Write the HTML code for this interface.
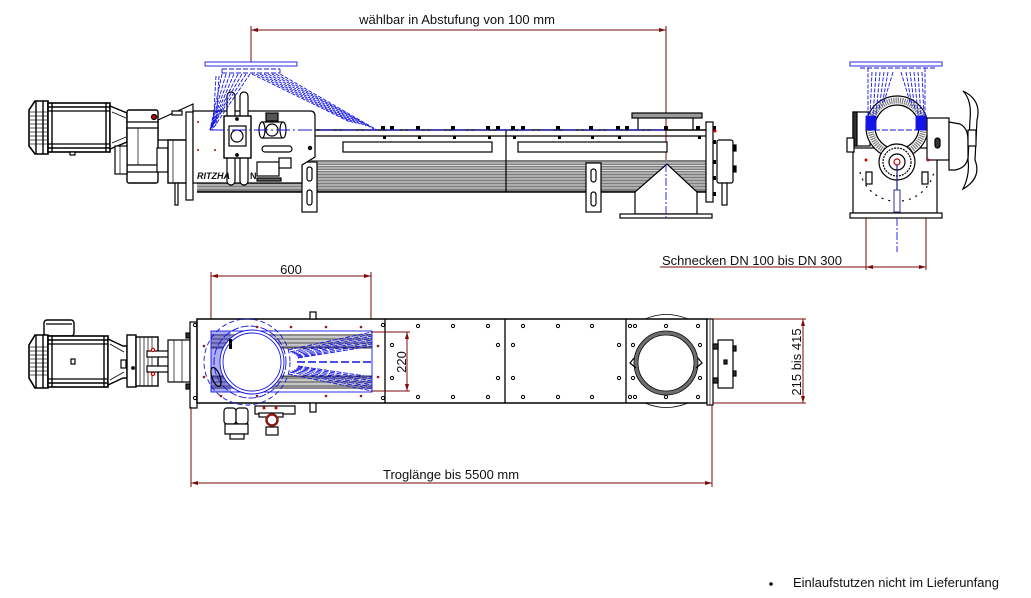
<!DOCTYPE html>
<html><head><meta charset="utf-8"><style>
html,body{margin:0;padding:0;background:#fff;}
svg{display:block;}
text{font-family:"Liberation Sans",Arial,sans-serif;fill:#111;}
</style></head><body>
<svg width="1031" height="598" viewBox="0 0 1031 598" xmlns="http://www.w3.org/2000/svg">
<defs>
<marker id="ar" markerWidth="8" markerHeight="6" refX="7" refY="3" orient="auto-start-reverse" markerUnits="userSpaceOnUse"><path d="M0,1 L7,3 L0,5 Z" fill="#7a0a0a"/></marker>
</defs>

<!-- ============ TOP DIMENSION ============ -->
<text x="457" y="24" font-size="13" text-anchor="middle">wählbar in Abstufung von 100 mm</text>
<line x1="251" y1="30" x2="666" y2="30" stroke="#7a0a0a" stroke-width="1" marker-start="url(#ar)" marker-end="url(#ar)"/>
<line x1="251" y1="26" x2="251" y2="62" stroke="#7a0a0a" stroke-width="1"/>
<line x1="666" y1="26" x2="666" y2="164" stroke="#7a0a0a" stroke-width="1"/>

<!-- ============ TOP VIEW (side elevation) ============ -->
<g stroke="#000" fill="#fff" stroke-width="1.2">
 <!-- trough stripes -->
 <rect x="197" y="160" width="509" height="32" fill="#7e7e7e" stroke="none"/>
 <g stroke="#fff" stroke-width="0.8">
  <line x1="197" y1="163" x2="706" y2="163"/><line x1="197" y1="165.5" x2="706" y2="165.5"/>
  <line x1="197" y1="168" x2="706" y2="168"/><line x1="197" y1="170.5" x2="706" y2="170.5"/>
  <line x1="197" y1="173" x2="706" y2="173"/><line x1="197" y1="176" x2="706" y2="176"/>
  <line x1="197" y1="179" x2="706" y2="179"/><line x1="197" y1="182" x2="706" y2="182"/>
  <line x1="197" y1="185" x2="706" y2="185"/><line x1="197" y1="188" x2="706" y2="188"/>
 </g>
 <line x1="197" y1="192" x2="706" y2="192" stroke-width="1.5"/>
 <line x1="315" y1="130" x2="706" y2="130" stroke-width="1.5"/>
 <line x1="315" y1="136" x2="706" y2="136"/>
 <line x1="506" y1="130" x2="506" y2="192"/>
 <rect x="343" y="142" width="149" height="10"/>
 <rect x="518" y="142" width="149" height="10"/>
 <g fill="#000" stroke="none">
  <rect x="381" y="126" width="4" height="4"/><rect x="390" y="126" width="4" height="4"/><rect x="416" y="126" width="4" height="4"/>
  <rect x="451" y="126" width="4" height="4"/><rect x="486" y="126" width="4" height="4"/><rect x="496" y="126" width="4" height="4"/>
  <rect x="511" y="126" width="4" height="4"/><rect x="521" y="126" width="4" height="4"/><rect x="556" y="126" width="4" height="4"/>
  <rect x="589" y="126" width="4" height="4"/><rect x="616" y="126" width="4" height="4"/><rect x="625" y="126" width="4" height="4"/>
  <rect x="664" y="126" width="4" height="4"/><rect x="696" y="126" width="4" height="4"/>
  <rect x="383" y="136" width="3" height="3"/><rect x="418" y="136" width="3" height="3"/><rect x="453" y="136" width="3" height="3"/>
  <rect x="488" y="136" width="3" height="3"/><rect x="513" y="136" width="3" height="3"/><rect x="558" y="136" width="3" height="3"/>
  <rect x="591" y="136" width="3" height="3"/><rect x="618" y="136" width="3" height="3"/><rect x="698" y="136" width="3" height="3"/>
 </g>
 <!-- inlet bar -->
 <rect x="632" y="113" width="70" height="5" fill="#999"/>
 <line x1="638" y1="118" x2="638" y2="130"/><line x1="693" y1="118" x2="693" y2="130"/>
 <!-- support foot right -->
 <rect x="586" y="163" width="15" height="49"/>
 <rect x="591" y="169" width="5" height="13" rx="2.5"/>
 <rect x="591" y="192" width="5" height="14" rx="2.5"/>
 <!-- hopper outlet -->
 <polygon points="667,164 635,192 635,214 697,214 697,192"/>
 <line x1="636" y1="192" x2="696" y2="192" stroke="#fff" stroke-width="0.8"/>
 <rect x="620" y="214" width="92" height="4"/>
 <!-- end flange + bearing -->
 <rect x="706" y="122" width="7" height="80"/>
 <g fill="#000" stroke="none">
  <rect x="713" y="126" width="3" height="4"/><rect x="713" y="140" width="3" height="4"/><rect x="713" y="160" width="3" height="4"/>
  <rect x="713" y="176" width="3" height="4"/><rect x="713" y="192" width="3" height="4"/>
 </g>
 <circle cx="715" cy="131" r="1.5" fill="#c00" stroke="none"/>
 <rect x="717" y="140" width="16" height="43" rx="2"/>
 <rect x="733" y="145" width="3" height="6" fill="#000"/><rect x="733" y="166" width="3" height="6" fill="#000"/>
 <rect x="722" y="183" width="5" height="22"/>

 <!-- motor -->
 <path d="M29,110 L35,101 L48,101 L48,154 L35,154 L29,146 Z" stroke-width="1.6"/>
 <g stroke="#222" stroke-width="0.7">
  <line x1="30" y1="112" x2="47" y2="112"/><line x1="30" y1="116" x2="47" y2="116"/><line x1="30" y1="120" x2="47" y2="120"/>
  <line x1="30" y1="124" x2="47" y2="124"/><line x1="30" y1="128" x2="47" y2="128"/><line x1="30" y1="132" x2="47" y2="132"/>
  <line x1="30" y1="136" x2="47" y2="136"/><line x1="30" y1="140" x2="47" y2="140"/><line x1="30" y1="144" x2="47" y2="144"/>
 </g>
 <line x1="36" y1="101" x2="36" y2="154" stroke-width="1.4"/><line x1="43" y1="101" x2="43" y2="154" stroke-width="1.4"/>
 <rect x="48" y="103" width="62" height="49" stroke-width="1.6"/>
 <line x1="48" y1="107" x2="110" y2="107" stroke-width="1.4"/><line x1="48" y1="111" x2="110" y2="111"/>
 <line x1="48" y1="144" x2="110" y2="144"/><line x1="48" y1="148" x2="110" y2="148" stroke-width="1.4"/>
 <line x1="52" y1="103" x2="52" y2="152" stroke-width="1.4"/><line x1="106" y1="103" x2="106" y2="152" stroke-width="1.4"/>
 <rect x="70" y="152" width="5" height="3"/>
 <polygon points="110,106 127,113 127,142 110,149" stroke-width="1.4"/>
 <line x1="112" y1="112" x2="126" y2="118" stroke-width="0.8"/><line x1="112" y1="143" x2="126" y2="137" stroke-width="0.8"/>
 <!-- gearbox -->
 <polygon points="158,120 193,104 193,140 158,140"/>
 <rect x="172" y="111" width="10" height="4"/>
 <rect x="127" y="110" width="31" height="73" rx="2" stroke-width="1.4"/>
 <line x1="127" y1="122" x2="158" y2="122"/><line x1="127" y1="128" x2="158" y2="128"/>
 <line x1="127" y1="165" x2="158" y2="165"/><line x1="127" y1="172" x2="158" y2="172"/>
 <line x1="138" y1="128" x2="138" y2="165" stroke-width="0.7"/>
 <rect x="115" y="146" width="12" height="28"/>
 <line x1="120" y1="146" x2="120" y2="174" stroke-width="0.7"/>
 <rect x="157" y="148" width="11" height="24"/>
 <rect x="168" y="140" width="24" height="43" stroke-width="1.4"/>
 <line x1="173" y1="140" x2="173" y2="183" stroke-width="0.7"/>
 <rect x="175" y="183" width="3" height="22"/>
 <circle cx="154" cy="117" r="2.5" fill="#c00"/>
 <!-- left support under plate -->
 <rect x="186" y="112" width="7" height="88"/>
 <rect x="302" y="162" width="15" height="50"/>
 <rect x="307" y="167" width="5" height="14" rx="2.5"/>
 <rect x="307" y="190" width="5" height="15" rx="2.5"/>
 <!-- control plate -->
 <path d="M193,111 L310,111 Q315,111 315,116 L315,157 L302,165 L302,183 L193,183 Z"/>
 <rect x="227" y="92" width="8" height="93" rx="4"/>
 <rect x="240" y="92" width="8" height="93" rx="4"/>
 <rect x="224" y="116" width="27" height="42" stroke-width="1.4"/>
 <rect x="229" y="126" width="17" height="20"/>
 <circle cx="237" cy="136" r="6"/>
 <circle cx="237" cy="119" r="1.3" fill="#000"/><circle cx="237" cy="155" r="1.3" fill="#000"/>
 <rect x="262" y="122" width="20" height="16"/>
 <rect x="266" y="113" width="12" height="8" fill="#555"/>
 <circle cx="272" cy="130" r="6"/>
 <ellipse cx="262" cy="130" rx="3" ry="8"/><ellipse cx="283" cy="130" rx="3" ry="8"/>
 <rect x="262" y="146" width="30" height="6" rx="3"/>
 <rect x="257" y="162" width="22" height="14"/>
 <rect x="279" y="158" width="12" height="10"/>
 <rect x="257" y="178" width="24" height="3" fill="#666"/>
 <circle cx="310" cy="148" r="1.6" fill="#333"/>
</g>
<circle cx="198" cy="122" r="1" fill="#c00"/><circle cx="198" cy="150" r="1" fill="#c00"/><circle cx="215" cy="150" r="1" fill="#c00"/>
<text x="197" y="179" font-size="9" font-weight="bold" font-style="italic">RITZHA</text>
<text x="250" y="179" font-size="9" font-weight="bold">N</text>

<!-- blue inlet (top view) -->
<g stroke="#1414e6" fill="none" stroke-width="0.9">
 <rect x="205" y="62" width="92" height="4"/>
 <line x1="222" y1="69" x2="280" y2="69" stroke-dasharray="5,2"/>
 <line x1="222" y1="73" x2="280" y2="73" stroke-dasharray="5,2"/>
 <line x1="222" y1="69" x2="222" y2="73"/><line x1="280" y1="69" x2="280" y2="73"/>
 <g stroke-dasharray="4,1.5">
  <line x1="222" y1="74" x2="210" y2="130"/><line x1="226" y1="74" x2="210" y2="130"/>
  <line x1="230" y1="74" x2="210" y2="130"/><line x1="234" y1="74" x2="210" y2="130"/>
  <line x1="238" y1="74" x2="210" y2="130"/><line x1="242" y1="74" x2="210" y2="130"/>
  <line x1="246" y1="74" x2="210" y2="130"/><line x1="250" y1="74" x2="212" y2="130"/>
  <line x1="216" y1="76" x2="213" y2="128"/><line x1="219" y1="76" x2="216" y2="126"/>
  <line x1="252" y1="74" x2="350" y2="122"/><line x1="256" y1="74" x2="354" y2="123"/>
  <line x1="260" y1="74" x2="358" y2="124"/><line x1="264" y1="74" x2="362" y2="125"/>
  <line x1="268" y1="74" x2="366" y2="126"/><line x1="272" y1="74" x2="370" y2="127"/>
  <line x1="276" y1="74" x2="374" y2="129"/><line x1="280" y1="74" x2="377" y2="130"/>
 </g>
 <line x1="210" y1="130" x2="666" y2="130" stroke-dasharray="14,3,2,3"/>
 <line x1="666" y1="164" x2="666" y2="218" stroke-dasharray="8,2,2,2"/>
</g>

<!-- ============ SIDE VIEW (right) ============ -->
<g stroke="#000" fill="#fff" stroke-width="1.2">
 <rect x="853" y="148" width="84" height="65"/>
 <rect x="853" y="112" width="17" height="34"/>
 <rect x="853" y="112" width="4" height="34" fill="#333"/>
 <rect x="847" y="138" width="7" height="14"/>
 <circle cx="897" cy="127" r="31"/>
 <circle cx="897" cy="127" r="26.5" stroke="#7a7a7a" stroke-width="6" stroke-dasharray="1.2,1"/>
 <circle cx="897" cy="127" r="22"/>
 <rect x="927" y="118" width="22" height="42"/>
 <path d="M949,122 L960,124 Q968,128 968,140 L968,158 Q966,168 955,170 L949,170 Z"/>
 <path d="M963,91 Q982,100 977,120 L975,160 Q982,178 963,189 Q970,175 968,160 L970,120 Q972,100 963,91 Z"/>
 <rect x="968" y="130" width="8" height="16"/>
 <rect x="935" y="138" width="5" height="10" rx="2.5" fill="#333"/>
 <circle cx="897" cy="162" r="18"/>
 <circle cx="897" cy="162" r="14" stroke-dasharray="2,1"/>
 <circle cx="897" cy="162" r="8"/>
 <circle cx="897" cy="162" r="3" stroke="#b00" fill="#fff"/>
 <path d="M860,172 A38,38 0 0 0 934,172" fill="none" stroke-dasharray="2,5"/>
 <rect x="866" y="172" width="6" height="12"/><rect x="922" y="172" width="6" height="12"/>
 <rect x="850" y="213" width="92" height="5"/>
 <circle cx="866" cy="160" r="1.5" fill="#c00" stroke="none"/><circle cx="928" cy="160" r="1.5" fill="#c00" stroke="none"/>
</g>
<g stroke="#1414e6" fill="none" stroke-width="0.9">
 <rect x="850" y="62" width="92" height="4"/>
 <line x1="860" y1="68" x2="935" y2="68" stroke-dasharray="5,2"/>
 <line x1="868" y1="68" x2="868" y2="130" stroke-dasharray="4,1.5"/>
 <line x1="925" y1="68" x2="925" y2="130" stroke-dasharray="4,1.5"/>
 <g stroke-dasharray="4,1.5">
  <line x1="872" y1="72" x2="870" y2="116"/><line x1="876" y1="72" x2="873" y2="116"/><line x1="880" y1="72" x2="876" y2="114"/>
  <line x1="884" y1="72" x2="879" y2="110"/><line x1="888" y1="72" x2="882" y2="106"/><line x1="893" y1="72" x2="884" y2="102"/>
  <line x1="901" y1="72" x2="910" y2="102"/><line x1="906" y1="72" x2="912" y2="106"/><line x1="910" y1="72" x2="915" y2="110"/>
  <line x1="914" y1="72" x2="918" y2="114"/><line x1="918" y1="72" x2="921" y2="116"/><line x1="922" y1="72" x2="924" y2="116"/>
 </g>
 <rect x="866" y="116" width="10" height="14" fill="#1414e6"/>
 <rect x="916" y="116" width="10" height="14" fill="#1414e6"/>
 <line x1="866" y1="130" x2="926" y2="130" stroke-dasharray="6,2"/>
 <line x1="897" y1="165" x2="897" y2="212" stroke="#1a1a8a" stroke-width="1.2"/>
 <rect x="894" y="190" width="6" height="22" fill="#fff" stroke="#1a1a8a"/>
 <line x1="897" y1="218" x2="897" y2="252" stroke-dasharray="8,2,2,2"/>
</g>
<line x1="866" y1="218" x2="866" y2="270" stroke="#7a0a0a"/>
<line x1="926" y1="218" x2="926" y2="270" stroke="#7a0a0a"/>
<line x1="660" y1="267" x2="866" y2="267" stroke="#7a0a0a"/>
<line x1="866" y1="267" x2="926" y2="267" stroke="#7a0a0a" marker-start="url(#ar)" marker-end="url(#ar)"/>
<text x="662" y="265" font-size="13">Schnecken DN 100 bis DN 300</text>

<!-- ============ BOTTOM VIEW (plan) ============ -->
<text x="291" y="274" font-size="13" text-anchor="middle">600</text>
<line x1="211" y1="276" x2="371" y2="276" stroke="#7a0a0a" marker-start="url(#ar)" marker-end="url(#ar)"/>
<line x1="211" y1="272" x2="211" y2="332" stroke="#7a0a0a"/>
<line x1="371" y1="272" x2="371" y2="332" stroke="#7a0a0a"/>

<g stroke="#000" fill="#fff" stroke-width="1.2">
 <!-- motor -->
 <rect x="44" y="320" width="30" height="16" rx="3" stroke-width="1.4"/>
 <line x1="46" y1="324" x2="72" y2="324"/>
 <path d="M29,345 L35,335 L48,335 L48,388 L35,388 L29,378 Z" stroke-width="1.6"/>
 <g stroke="#222" stroke-width="0.7">
  <line x1="30" y1="347" x2="47" y2="347"/><line x1="30" y1="351" x2="47" y2="351"/><line x1="30" y1="355" x2="47" y2="355"/>
  <line x1="30" y1="359" x2="47" y2="359"/><line x1="30" y1="363" x2="47" y2="363"/><line x1="30" y1="367" x2="47" y2="367"/>
  <line x1="30" y1="371" x2="47" y2="371"/><line x1="30" y1="375" x2="47" y2="375"/>
 </g>
 <line x1="36" y1="335" x2="36" y2="388" stroke-width="1.4"/><line x1="43" y1="335" x2="43" y2="388" stroke-width="1.4"/>
 <rect x="48" y="336" width="60" height="51" stroke-width="1.6"/>
 <line x1="48" y1="340" x2="108" y2="340" stroke-width="1.4"/><line x1="48" y1="344" x2="108" y2="344"/>
 <line x1="48" y1="379" x2="108" y2="379"/><line x1="48" y1="383" x2="108" y2="383" stroke-width="1.4"/>
 <line x1="52" y1="336" x2="52" y2="387" stroke-width="1.4"/><line x1="104" y1="336" x2="104" y2="387" stroke-width="1.4"/>
 <rect x="71" y="359" width="4" height="5"/>
 <polygon points="108,339 123,346 127,346 127,378 123,378 108,385" stroke-width="1.4"/>
 <line x1="110" y1="344" x2="124" y2="352" stroke-width="0.8"/><line x1="110" y1="380" x2="124" y2="372" stroke-width="0.8"/>
 <rect x="121" y="360" width="5" height="8"/>
 <rect x="127" y="335" width="9" height="52" stroke-width="1.4"/>
 <rect x="136" y="337" width="22" height="49" stroke-width="1.4"/>
 <line x1="140" y1="337" x2="140" y2="386" stroke-width="0.7"/><line x1="144" y1="337" x2="144" y2="386" stroke-width="0.7"/>
 <line x1="148" y1="337" x2="148" y2="386" stroke-width="0.7"/><line x1="152" y1="337" x2="152" y2="386" stroke-width="0.7"/>
 <circle cx="133" cy="368" r="1.3" fill="#000"/>
 <rect x="147" y="351" width="45" height="6"/><rect x="147" y="366" width="45" height="6"/>
 <rect x="168" y="340" width="22" height="42"/>
 <line x1="174" y1="340" x2="174" y2="382" stroke-width="0.7"/><line x1="182" y1="340" x2="182" y2="382" stroke-width="0.7"/>
 <rect x="186" y="333" width="4" height="5" fill="#333"/><rect x="186" y="384" width="4" height="5" fill="#333"/>
 <circle cx="153" cy="350" r="1.6" fill="#fff" stroke="#c00"/><circle cx="153" cy="374" r="1.6" fill="#fff" stroke="#c00"/>
 <!-- trough -->
 <rect x="190" y="322" width="7" height="86"/>
 <rect x="197" y="319" width="510" height="84" stroke-width="1.5"/>
 <line x1="385" y1="319" x2="385" y2="403" stroke-width="1.3"/>
 <line x1="505" y1="319" x2="505" y2="403" stroke-width="1.3"/>
 <line x1="626" y1="319" x2="626" y2="403" stroke-width="1.3"/>
 <rect x="310" y="312" width="6" height="7"/><rect x="310" y="403" width="6" height="9"/>
 <rect x="707" y="319" width="6" height="86"/>
 <line x1="710" y1="319" x2="710" y2="405" stroke-width="0.6"/>
 <rect x="718" y="340" width="15" height="48"/>
 <rect x="713" y="344" width="5" height="5" fill="#333"/><rect x="713" y="378" width="5" height="5" fill="#333"/>
 <rect x="733" y="346" width="3" height="5" fill="#333"/><rect x="733" y="371" width="3" height="5" fill="#333"/>
 <rect x="724" y="360" width="3" height="4" fill="#333"/>
 <!-- outlet ring -->
 <path d="M645,319 Q666,310 688,319" fill="none" stroke-width="0.8"/>
 <path d="M645,403 Q666,412 688,403" fill="none" stroke-width="0.8"/>
 <circle cx="666" cy="363" r="30" fill="none" stroke="#6e6e6e" stroke-width="3.5"/>
 <circle cx="666" cy="363" r="32" fill="none" stroke-width="0.8"/>
 <circle cx="666" cy="363" r="28" fill="none" stroke-width="0.8"/>
 <path d="M634,358 L630,363 L636,368" fill="none"/>
 <path d="M698,358 L702,363 L696,368" fill="none"/>
 <!-- components below trough -->
 <rect x="224" y="408" width="12" height="16" rx="3"/><rect x="236" y="408" width="12" height="16" rx="3"/>
 <rect x="225" y="424" width="23" height="10"/>
 <rect x="230" y="434" width="14" height="5"/>
 <rect x="255" y="406" width="40" height="8"/>
 <rect x="259" y="413" width="24" height="4"/>
 <rect x="266" y="427" width="12" height="8"/>
</g>
<circle cx="272" cy="420" r="5.5" fill="#fff" stroke="#8b1a1a" stroke-width="2.5"/>
<circle cx="264" cy="408" r="1.5" fill="#c00"/><circle cx="276" cy="408" r="1.5" fill="#c00"/>

<!-- blue screw area (plan) -->
<g stroke="none">
 <rect x="211" y="334" width="161" height="14" fill="#8c8c8c"/>
 <rect x="211" y="376" width="161" height="13" fill="#8c8c8c"/>
</g>
<g stroke="#fff" stroke-width="0.9">
 <line x1="211" y1="337" x2="372" y2="337"/><line x1="211" y1="341" x2="372" y2="341"/><line x1="211" y1="345" x2="372" y2="345"/>
 <line x1="211" y1="380" x2="372" y2="380"/><line x1="211" y1="384" x2="372" y2="384"/>
</g>
<g stroke="#000" stroke-width="0.8">
 <line x1="211" y1="348" x2="372" y2="348"/><line x1="211" y1="376" x2="372" y2="376"/>
</g>
<g stroke="#1414e6" fill="none" stroke-width="0.9">
 <rect x="211" y="331" width="161" height="61"/>
 <rect x="211" y="331" width="20" height="61" fill="#1414e6" opacity="0.35" stroke="none"/>
 <g stroke-dasharray="5,1.5">
  <line x1="288" y1="350" x2="372" y2="332"/><line x1="290" y1="352" x2="372" y2="334"/><line x1="292" y1="353" x2="372" y2="336"/>
  <line x1="294" y1="354" x2="372" y2="338"/><line x1="296" y1="355" x2="372" y2="340"/><line x1="297" y1="356" x2="372" y2="342"/>
  <line x1="298" y1="357" x2="372" y2="344"/><line x1="298" y1="358" x2="372" y2="346"/>
  <line x1="288" y1="374" x2="372" y2="391"/><line x1="290" y1="372" x2="372" y2="389"/><line x1="292" y1="371" x2="372" y2="387"/>
  <line x1="294" y1="370" x2="372" y2="385"/><line x1="296" y1="369" x2="372" y2="383"/><line x1="297" y1="368" x2="372" y2="381"/>
  <line x1="298" y1="367" x2="372" y2="379"/><line x1="298" y1="366" x2="372" y2="377"/>
 </g>
 <line x1="297" y1="362" x2="372" y2="362" stroke-width="1.6" stroke-dasharray="8,3"/>
 <circle cx="247" cy="362" r="43" stroke-dasharray="5,3"/>
 <circle cx="250" cy="362" r="36" stroke-dasharray="8,2"/>
 <circle cx="252" cy="362" r="32" fill="#fff"/>
 <circle cx="252" cy="362" r="29"/>
</g>
<ellipse cx="216" cy="377" rx="4" ry="10" fill="none" stroke="#000" stroke-width="1.2" transform="rotate(-20 216 377)"/>
<rect x="229" y="339" width="3" height="10" fill="#000"/>
<g fill="#8b1a1a">
 <circle cx="257" cy="327" r="1.3"/><circle cx="291" cy="327" r="1.3"/><circle cx="326" cy="327" r="1.3"/><circle cx="361" cy="327" r="1.3"/>
 <circle cx="221" cy="396" r="1.3"/><circle cx="257" cy="396" r="1.3"/><circle cx="326" cy="396" r="1.3"/><circle cx="361" cy="396" r="1.3"/>
 <circle cx="204" cy="346" r="1.3"/><circle cx="204" cy="377" r="1.3"/><circle cx="378" cy="346" r="1.3"/><circle cx="378" cy="377" r="1.3"/>
</g>
<g fill="#fff" stroke="#000" stroke-width="1">
 <circle cx="418" cy="326" r="1.6"/><circle cx="453" cy="326" r="1.6"/><circle cx="488" cy="326" r="1.6"/>
 <circle cx="418" cy="397" r="1.6"/><circle cx="453" cy="397" r="1.6"/><circle cx="488" cy="397" r="1.6"/>
 <circle cx="392" cy="345" r="1.6"/><circle cx="392" cy="378" r="1.6"/><circle cx="498" cy="345" r="1.6"/><circle cx="498" cy="378" r="1.6"/>
 <circle cx="523" cy="326" r="1.6"/><circle cx="558" cy="326" r="1.6"/><circle cx="592" cy="326" r="1.6"/>
 <circle cx="523" cy="397" r="1.6"/><circle cx="558" cy="397" r="1.6"/><circle cx="592" cy="397" r="1.6"/>
 <circle cx="513" cy="345" r="1.6"/><circle cx="513" cy="378" r="1.6"/><circle cx="619" cy="345" r="1.6"/><circle cx="619" cy="378" r="1.6"/>
 <circle cx="630" cy="326" r="1.6"/><circle cx="635" cy="326" r="1.6"/><circle cx="666" cy="326" r="1.6"/><circle cx="698" cy="326" r="1.6"/>
 <circle cx="630" cy="397" r="1.6"/><circle cx="635" cy="397" r="1.6"/><circle cx="666" cy="397" r="1.6"/><circle cx="698" cy="397" r="1.6"/>
 <circle cx="633" cy="345" r="1.6"/><circle cx="633" cy="378" r="1.6"/><circle cx="700" cy="345" r="1.6"/><circle cx="700" cy="378" r="1.6"/>
 <circle cx="195" cy="325" r="1.6"/><circle cx="195" cy="398" r="1.6"/><circle cx="383" cy="325" r="1.6"/><circle cx="383" cy="398" r="1.6"/>
</g>

<!-- dimension 220 -->
<line x1="372" y1="332" x2="410" y2="332" stroke="#7a0a0a"/>
<line x1="372" y1="391" x2="410" y2="391" stroke="#7a0a0a"/>
<line x1="407" y1="332" x2="407" y2="391" stroke="#7a0a0a" marker-start="url(#ar)" marker-end="url(#ar)"/>
<text transform="translate(406,362) rotate(-90)" font-size="13" text-anchor="middle">220</text>

<!-- dimension 215 bis 415 -->
<line x1="713" y1="319" x2="806" y2="319" stroke="#7a0a0a"/>
<line x1="713" y1="403" x2="806" y2="403" stroke="#7a0a0a"/>
<line x1="803" y1="319" x2="803" y2="403" stroke="#7a0a0a" marker-start="url(#ar)" marker-end="url(#ar)"/>
<text transform="translate(801,362) rotate(-90)" font-size="13" text-anchor="middle">215 bis 415</text>

<!-- Troglänge -->
<line x1="191" y1="407" x2="191" y2="487" stroke="#7a0a0a"/>
<line x1="712" y1="405" x2="712" y2="487" stroke="#7a0a0a"/>
<line x1="191" y1="483" x2="712" y2="483" stroke="#7a0a0a" marker-start="url(#ar)" marker-end="url(#ar)"/>
<text x="383" y="479" font-size="13">Troglänge bis 5500 mm</text>

<!-- footnote -->
<circle cx="771" cy="584" r="1.8" fill="#111"/>
<text x="793" y="587" font-size="13">Einlaufstutzen nicht im Lieferunfang</text>
</svg>
</body></html>
